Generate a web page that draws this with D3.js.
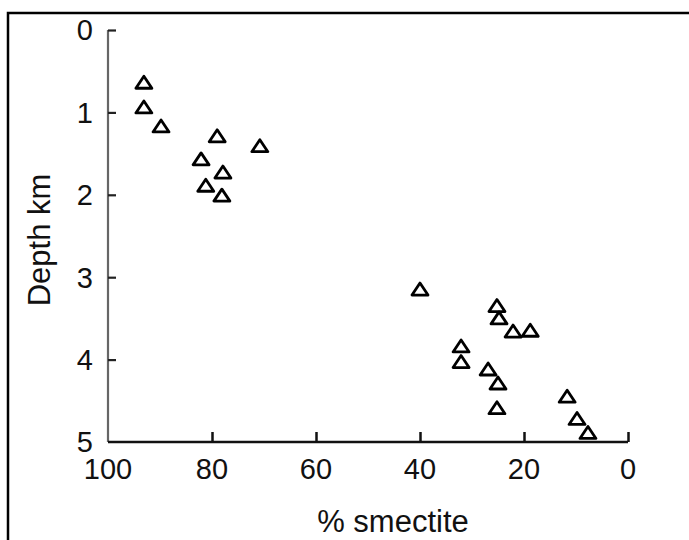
<!DOCTYPE html>
<html><head><meta charset="utf-8">
<script src="https://cdn.jsdelivr.net/npm/d3@7"></script>
<style>body{margin:0;background:#fff;} svg{display:block;}</style>
</head><body>
<svg id="c" width="689" height="540"></svg>
<script>
const smectite = [93.1, 93.1, 89.8, 79.0, 70.8, 82.1, 77.9, 81.2, 78.1, 40.0, 25.2, 24.8, 22.1, 18.8, 32.1, 32.1, 26.9, 25.0, 25.2, 11.7, 9.8, 7.7];
const depth    = [0.64, 0.94, 1.17, 1.29, 1.41, 1.57, 1.73, 1.89, 2.01, 3.15, 3.35, 3.50, 3.66, 3.65, 3.84, 4.03, 4.12, 4.29, 4.59, 4.45, 4.72, 4.89];
const xTicks = [100, 80, 60, 40, 20, 0];
const yTicks = [0, 1, 2, 3, 4, 5];
const xTitle = "% smectite";
const yTitle = "Depth km";

const svg = d3.select("#c");
const font = "'Liberation Sans', Arial, Helvetica, sans-serif";
// frame
svg.append("path").attr("d","M8,560L8,13L700,13").attr("fill","none").attr("stroke","#000").attr("stroke-width",2.5);

const x = d3.scaleLinear().domain([100,0]).range([108,628]);
const y = d3.scaleLinear().domain([0,5]).range([30,442]);

// y axis
const gy = svg.append("g").attr("transform","translate(108,0)")
  .call(d3.axisRight(y).tickValues(yTicks).tickSize(8).tickFormat(""));
gy.select(".domain").attr("d",`M0,${y(0)}V${y(5)}`).attr("stroke","#666").attr("stroke-width",2.2);
gy.selectAll(".tick line").attr("stroke","#222").attr("stroke-width",2.2);
gy.selectAll(".tick").filter(d=>d===5).remove();
svg.append("g").selectAll("text").data(yTicks).join("text")
  .attr("x",93).attr("y",d=>y(d)).attr("dy","0.36em").attr("text-anchor","end")
  .attr("font-family",font).attr("font-size",29).attr("fill","#111").text(d=>d);

// x axis
const gx = svg.append("g").attr("transform","translate(0,442)")
  .call(d3.axisTop(x).tickValues(xTicks).tickSize(10).tickFormat(""));
gx.select(".domain").attr("d",`M${x(100)},0H${x(0)}`).attr("stroke","#111").attr("stroke-width",2.5);
gx.selectAll(".tick line").attr("stroke","#111").attr("stroke-width",2.5);
gx.selectAll(".tick").filter(d=>d===100).remove();
svg.append("g").selectAll("text").data(xTicks).join("text")
  .attr("x",d=>x(d)).attr("y",479).attr("text-anchor","middle")
  .attr("font-family",font).attr("font-size",29).attr("fill","#111").text(d=>d);

// titles
svg.append("text").attr("x",393).attr("y",532).attr("text-anchor","middle")
  .attr("font-family",font).attr("font-size",31).attr("fill","#111").text(xTitle);
svg.append("text").attr("transform","translate(50,240) rotate(-90)").attr("text-anchor","middle")
  .attr("font-family",font).attr("font-size",31).attr("fill","#111").text(yTitle);

// points
const pts = smectite.map((s,i)=>({s, d: depth[i]}));
svg.append("g").selectAll("path").data(pts).join("path")
  .attr("transform",d=>`translate(${x(d.s)},${y(d.d)})`)
  .attr("d","M0,-6.5L8,5.5L-8,5.5Z")
  .attr("fill","#fff").attr("stroke","#000").attr("stroke-width",2.8).attr("stroke-linejoin","round");
</script>
</body></html>
